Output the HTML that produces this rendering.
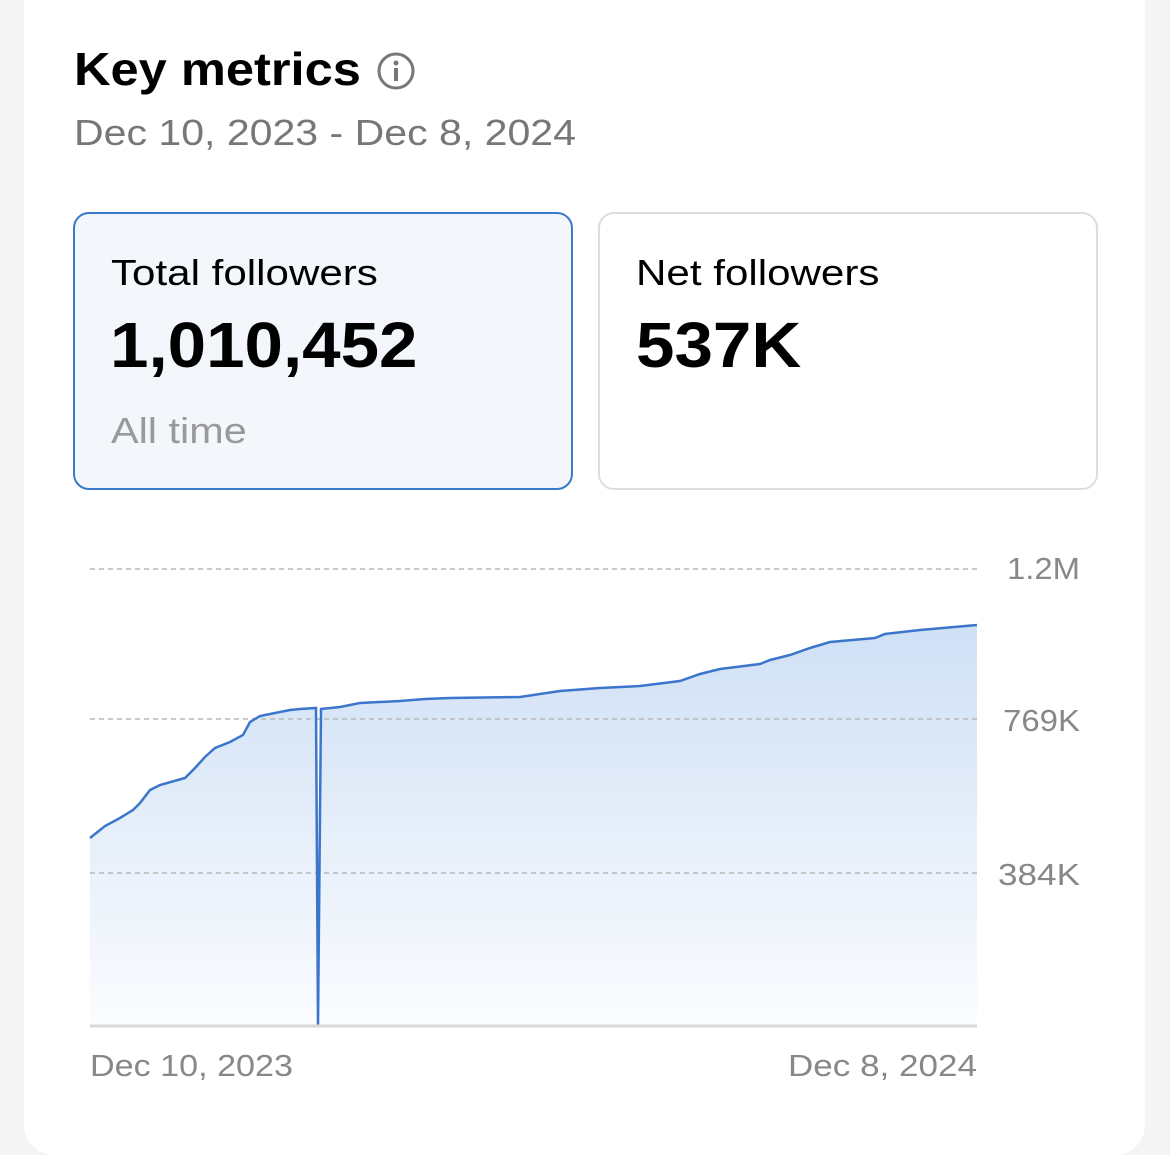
<!DOCTYPE html>
<html><head><meta charset="utf-8"><style>
html,body{margin:0;padding:0;background:#f4f4f4;width:1170px;height:1155px;overflow:hidden;font-family:"Liberation Sans",sans-serif}
.card{position:absolute;left:24px;top:-40px;width:1121px;height:1195px;background:#fff;border-radius:30px}
.t{position:absolute;white-space:nowrap;transform-origin:0 0}
</style></head><body>
<div class="card"></div>
<div class="t" style="left:74px;top:42px;font-size:46px;font-weight:bold;color:#000;transform:scaleX(1.1)">Key metrics</div>
<svg style="position:absolute;left:376px;top:52px" width="40" height="40"><circle cx="20" cy="19" r="17" fill="none" stroke="#777" stroke-width="3"/><circle cx="20" cy="11" r="2.5" fill="#777"/><rect x="18" y="16" width="4" height="13" fill="#777"/></svg>
<div class="t" style="left:74px;top:112px;font-size:36px;color:#777;transform:scaleX(1.14)">Dec 10, 2023 - Dec 8, 2024</div>
<div style="position:absolute;left:73px;top:212px;width:496px;height:274px;border:2px solid #3a78c9;border-radius:16px;background:#f3f7fb"></div>
<div style="position:absolute;left:598px;top:212px;width:496px;height:274px;border:2px solid #ddd;border-radius:16px;background:#fff"></div>
<div class="t" style="left:111px;top:252px;font-size:36px;color:#000;transform:scaleX(1.17)">Total followers</div>
<div class="t" style="left:110px;top:308px;font-size:64px;font-weight:bold;color:#000;transform:scaleX(1.08)">1,010,452</div>
<div class="t" style="left:111px;top:410px;font-size:36px;color:#999;transform:scaleX(1.15)">All time</div>
<div class="t" style="left:636px;top:252px;font-size:36px;color:#000;transform:scaleX(1.17)">Net followers</div>
<div class="t" style="left:636px;top:308px;font-size:64px;font-weight:bold;color:#000;transform:scaleX(1.08)">537K</div>
<svg style="position:absolute;left:0;top:0" width="1170" height="1155">
<defs><linearGradient id="g" x1="0" y1="0" x2="0" y2="1"><stop offset="0" stop-color="#cfe0f5"/><stop offset="1" stop-color="#fbfcfe"/></linearGradient></defs>
<path d="M90,838 L105,826 120,818 133,810 140,803 150,790 160,785 185,778 195,768 205,757 215,748 230,742 243,735 250,722 260,716 275,713 290,710 300,709 316,708 L318,1025 L321,709 340,707 360,703 400,701 425,699 450,698 520,697 560,691 600,688 640,686 680,681 700,674 720,669 760,664 770,660 790,655 810,648 830,642 875,638 885,634 920,630 977,625 L977,1025 L90,1025Z" fill="url(#g)"/>
<g stroke="#b8b8b8" stroke-width="1.5" stroke-dasharray="5,4"><line x1="90" y1="569" x2="977" y2="569"/><line x1="90" y1="719" x2="977" y2="719"/><line x1="90" y1="873" x2="977" y2="873"/></g>
<path d="M90,838 L105,826 120,818 133,810 140,803 150,790 160,785 185,778 195,768 205,757 215,748 230,742 243,735 250,722 260,716 275,713 290,710 300,709 316,708 L318,1025 L321,709 340,707 360,703 400,701 425,699 450,698 520,697 560,691 600,688 640,686 680,681 700,674 720,669 760,664 770,660 790,655 810,648 830,642 875,638 885,634 920,630 977,625" fill="none" stroke="#3b76cc" stroke-width="2.5"/>
<line x1="90" y1="1026" x2="977" y2="1026" stroke="#d8d8d8" stroke-width="3"/>
<g font-family="Liberation Sans, sans-serif" font-size="31" fill="#888">
<text x="1007" y="579" textLength="73" lengthAdjust="spacingAndGlyphs">1.2M</text>
<text x="1003" y="731" textLength="77" lengthAdjust="spacingAndGlyphs">769K</text>
<text x="998" y="885" textLength="82" lengthAdjust="spacingAndGlyphs">384K</text>
<text x="90" y="1076" textLength="203" lengthAdjust="spacingAndGlyphs">Dec 10, 2023</text>
<text x="788" y="1076" textLength="189" lengthAdjust="spacingAndGlyphs">Dec 8, 2024</text>
</g></svg>
</body></html>
